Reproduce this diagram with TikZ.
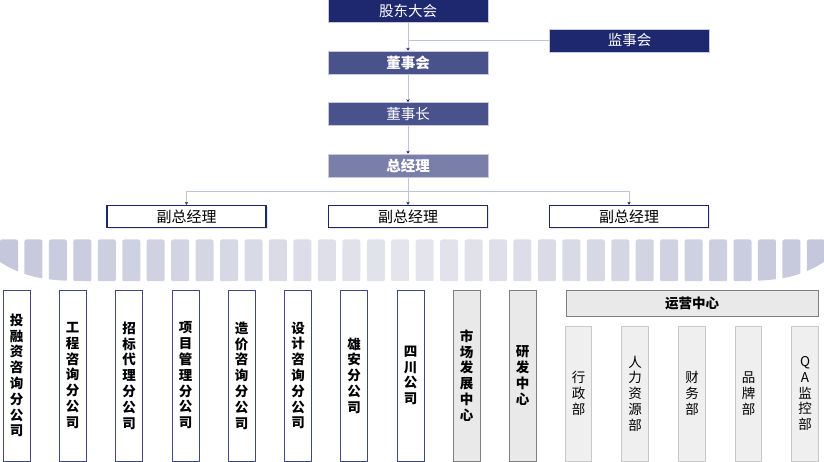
\documentclass[tikz,border=0pt]{standalone}
\usepackage{fontspec}
\setmainfont{Noto Sans CJK SC}
\usepackage{tikz}
\usetikzlibrary{arrows.meta,shadows}
\definecolor{navy}{RGB}{30,40,110}
\definecolor{board}{RGB}{74,82,140}
\definecolor{gm}{RGB}{122,127,170}
\definecolor{wire}{RGB}{192,196,216}
\definecolor{tileedge}{RGB}{196,199,220}
\definecolor{tilemid}{RGB}{228,229,236}
\definecolor{greyline}{RGB}{128,128,128}
\definecolor{greyfill}{RGB}{233,233,233}
\definecolor{deptline}{RGB}{200,200,200}
\definecolor{deptfill}{RGB}{239,239,239}
\newcommand{\tikzTileBand}[2]{
  \begin{scope}
    \clip (0,#1) -- (824,#1) -- (824,262) .. controls (800,277) and (780,281) .. (740,281)
      -- (84,281) .. controls (44,281) and (24,277) .. (0,262) -- cycle;
    \foreach \i in {0,...,33} {
      \pgfmathsetmacro\tx{\i*24.45}
      \pgfmathtruncatemacro\tm{abs(\tx+9-412)/4.12}
      \fill[tileedge!\tm!tilemid,rounded corners=2pt] (\tx,#1) rectangle ++(18,#2);
    }
  \end{scope}
}

\begin{document}
\begin{tikzpicture}[x=1pt,y=-1pt,
  topbox/.style={draw=white!75!navy,line width=0.5pt,inner sep=0pt,minimum width=160pt,minimum height=23pt,text=white,font=\fontsize{14.5}{16}\selectfont},
  bold/.style={font=\fontsize{14.5}{16}\selectfont\bfseries},
  vicebox/.style={draw=navy,line width=1.4pt,fill=white,inner sep=0pt,minimum width=159pt,minimum height=22pt,font=\fontsize{15}{16}\selectfont,drop shadow={opacity=0.2,shadow xshift=1.5pt,shadow yshift=-1.5pt}},
  colbox/.style={draw=navy!85,line width=0.9pt,fill=white,inner sep=0pt,minimum width=27pt,minimum height=171pt,align=center,font=\fontsize{13.5}{15.8}\selectfont\bfseries},
  greybox/.style={draw=greyline,line width=0.7pt,fill=greyfill,inner sep=0pt,minimum width=27pt,minimum height=171pt,align=center,font=\fontsize{13.5}{15.8}\selectfont\bfseries},
  deptbox/.style={draw=deptline,line width=0.7pt,fill=deptfill,inner sep=0pt,minimum width=26.5pt,minimum height=135pt,align=center,font=\fontsize{13.5}{15.8}\selectfont},
  wire/.style={draw=wire,line width=0.8pt},
  arr/.style={wire,-{Stealth[length=3pt,width=3.5pt,color=navy]}}]
  \useasboundingbox (0,0) rectangle (824,462);

  % top of the chart
  \node[topbox,fill=navy]      (gd)  at (408,11)     {股东大会};
  \node[topbox,fill=navy]      (js)  at (629.5,40.5) {监事会};
  \node[topbox,fill=board,bold] (dsh) at (408,62.5)  {董事会};
  \node[topbox,fill=board]     (dsz) at (408,114)    {董事长};
  \node[topbox,fill=gm,bold]   (zjl) at (408,165.5)  {总经理};
  \draw[arr] (gd) -- (dsh);
  \draw[wire] (js.west) -- (js.west -| gd.south);
  \draw[arr] (dsh) -- (dsz);
  \draw[arr] (dsz) -- (zjl);

  % vice managers
  \node[vicebox] (f1) at (186.5,216.5) {副总经理};
  \node[vicebox] (f2) at (408,216.5)   {副总经理};
  \node[vicebox] (f3) at (629,216.5)   {副总经理};
  \coordinate (fork) at (408,191);
  \draw[wire] (zjl) -- (fork);
  \draw[arr] (fork) -| (f1.north);
  \draw[arr] (fork) -- (f2.north);
  \draw[arr] (fork) -| (f3.north);

  \tikzTileBand{239.5}{42}

  % branch companies
  \node[colbox] (tr) at (16.5,375.5)  {投\\融\\资\\咨\\询\\分\\公\\司};
  \node[colbox] (gc) at (72.5,375.5)  {工\\程\\咨\\询\\分\\公\\司};
  \node[colbox] (zb) at (129,375.5)   {招\\标\\代\\理\\分\\公\\司};
  \node[colbox] (xm) at (185.5,375.5) {项\\目\\管\\理\\分\\公\\司};
  \node[colbox] (zj) at (241.5,375.5) {造\\价\\咨\\询\\分\\公\\司};
  \node[colbox] (sj) at (298,375.5)   {设\\计\\咨\\询\\分\\公\\司};
  \node[colbox] (xa) at (354,375.5)   {雄\\安\\分\\公\\司};
  \node[colbox] (sc) at (410.5,375.5) {四\\川\\公\\司};

  % centres and departments
  \node[greybox] (sf) at (466.5,375.5) {市\\场\\发\\展\\中\\心};
  \node[greybox] (yf) at (522.5,375.5) {研\\发\\中\\心};
  \node[greybox,minimum width=252pt,minimum height=26pt] (yy) at (692,303) {运营中心};
  \node[deptbox] (xz) at (578.5,393.5) {行\\政\\部};
  \node[deptbox] (rl) at (635,393.5)   {人\\力\\资\\源\\部};
  \node[deptbox] (cw) at (692,393.5)   {财\\务\\部};
  \node[deptbox] (pp) at (748.5,393.5) {品\\牌\\部};
  \node[deptbox] (qa) at (805,393.5)   {Q\\A\\监\\控\\部};
\end{tikzpicture}
\end{document}
